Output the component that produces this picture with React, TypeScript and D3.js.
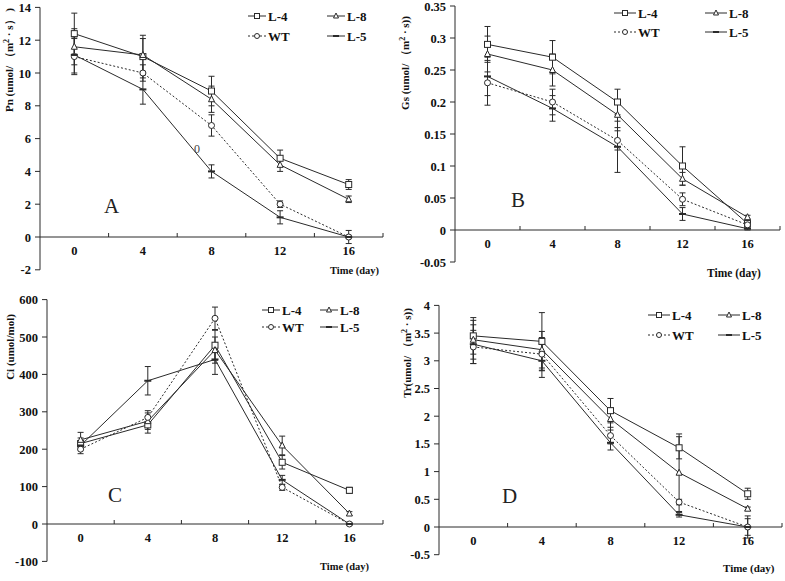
import React from "react";
import * as d3 from "d3";

const days = [0, 4, 8, 12, 16];
const seriesNames = ["L-4", "L-8", "WT", "L-5"];

// Panel A: Pn
const pnL4 = [12.4, 11.0, 8.9, 4.8, 3.2];
const pnL8 = [11.6, 11.1, 8.4, 4.4, 2.3];
const pnWT = [11.0, 10.0, 6.8, 2.0, 0.0];
const pnL5 = [11.1, 9.0, 4.0, 1.2, 0.0];
const pnL4Err = [1.25, 1.3, 0.9, 0.5, 0.3];
const pnL8Err = [1.1, 1.0, 0.8, 0.4, 0.2];
const pnWTErr = [1.1, 0.5, 0.65, 0.2, 0.1];
const pnL5Err = [1.1, 0.9, 0.4, 0.4, 0.4];
const pnTicks = [-2, 0, 2, 4, 6, 8, 10, 12, 14];

// Panel B: Gs
const gsL4 = [0.29, 0.27, 0.2, 0.1, 0.01];
const gsL8 = [0.275, 0.25, 0.18, 0.08, 0.02];
const gsWT = [0.23, 0.2, 0.14, 0.048, 0.008];
const gsL5 = [0.24, 0.19, 0.13, 0.025, 0.002];
const gsL4Err = [0.028, 0.026, 0.02, 0.03, 0.005];
const gsL8Err = [0.028, 0.025, 0.02, 0.01, 0.003];
const gsWTErr = [0.035, 0.02, 0.015, 0.01, 0.003];
const gsL5Err = [0.03, 0.02, 0.04, 0.01, 0.002];
const gsTicks = [-0.05, 0, 0.05, 0.1, 0.15, 0.2, 0.25, 0.3, 0.35];

// Panel C: Ci
const ciL4 = [215, 265, 478, 165, 90];
const ciL8 = [225, 275, 465, 210, 28];
const ciWT = [200, 285, 550, 98, 0];
const ciL5 = [210, 383, 440, 118, 0];
const ciL4Err = [15, 22, 40, 18, 8];
const ciL8Err = [20, 22, 35, 25, 5];
const ciWTErr = [12, 18, 30, 8, 3];
const ciL5Err = [12, 38, 40, 12, 3];
const ciTicks = [-100, 0, 100, 200, 300, 400, 500, 600];

// Panel D: Tr
const trL4 = [3.45, 3.35, 2.1, 1.43, 0.6];
const trL8 = [3.38, 3.2, 1.95, 0.98, 0.33];
const trWT = [3.25, 3.12, 1.65, 0.45, 0.0];
const trL5 = [3.3, 3.0, 1.52, 0.22, 0.0];
const trL4Err = [0.33, 0.52, 0.22, 0.2, 0.1];
const trL8Err = [0.35, 0.33, 0.2, 0.7, 0.03];
const trWTErr = [0.3, 0.3, 0.15, 0.05, 0.2];
const trL5Err = [0.35, 0.3, 0.13, 0.04, 0.15];
const trTicks = [-0.5, 0, 0.5, 1, 1.5, 2, 2.5, 3, 3.5, 4];

const xLabelTicks = [0, 4, 8, 12, 16];
const xMinorTicks = [2, 6, 10, 14, 18];

const SERIF = "'Times New Roman', 'Liberation Serif', 'DejaVu Serif', serif";
const INK = "#2a2a2a";
const markerTypes = ["square", "triangle", "circle", "dash"];
const dashes = [null, null, "2,2", null];

type PanelCfg = {
  x0: number; x1: number; yTop: number; yBot: number;
  yDomain: [number, number]; yTicks: number[]; fmt: (v: number) => string;
  values: number[][]; errs: number[][];
  letter: string; letterX: number; letterY: number;
  yLabel: React.ReactNode; yLabelX: number; yLabelY: number; yLabelSize: number;
  timeX: number; timeY: number; timeSize: number;
  legX1: number; legX2: number; legY1: number; legY2: number; legLen: number;
  extra?: React.ReactNode;
};

function Marker({ type, x, y, s = 3 }: { type: string; x: number; y: number; s?: number }) {
  if (type === "square")
    return <rect x={x - s} y={y - s} width={2 * s} height={2 * s} fill="white" stroke={INK} strokeWidth={1} />;
  if (type === "triangle")
    return <path d={`M${x},${y - s - 0.5}L${x + s},${y + s - 0.5}L${x - s},${y + s - 0.5}Z`} fill="white" stroke={INK} strokeWidth={1} />;
  if (type === "circle")
    return <circle cx={x} cy={y} r={s} fill="white" stroke={INK} strokeWidth={1} />;
  return <line x1={x - s - 0.5} x2={x + s + 0.5} y1={y} y2={y} stroke={INK} strokeWidth={2} />;
}

function Panel({ c }: { c: PanelCfg }) {
  const xs = d3.scaleLinear().domain([-2, 18]).range([c.x0, c.x1]);
  const ys = d3.scaleLinear().domain(c.yDomain).range([c.yBot, c.yTop]);
  const y0 = ys(0);
  const line = d3.line<number>().x((_, i) => xs(days[i])).y((v) => ys(v));
  const legPos = [
    [c.legX1, c.legY1], [c.legX2, c.legY1], [c.legX1, c.legY2], [c.legX2, c.legY2],
  ];
  return (
    <g>
      <line x1={c.x0} x2={c.x0} y1={ys(c.yDomain[1])} y2={ys(c.yDomain[0])} stroke={INK} strokeWidth={1} />
      {c.yTicks.map((t) => (
        <g key={"yt" + t}>
          <line x1={c.x0 - 5} x2={c.x0} y1={ys(t)} y2={ys(t)} stroke={INK} />
          <text x={c.x0 - 9} y={ys(t) + 4.5} textAnchor="end" fontFamily={SERIF} fontWeight="bold" fontSize={12.5} fill="#111">
            {c.fmt(t)}
          </text>
        </g>
      ))}
      <line x1={c.x0} x2={c.x1} y1={y0} y2={y0} stroke={INK} strokeWidth={1} />
      {xMinorTicks.map((t) => (
        <line key={"xm" + t} x1={xs(t)} x2={xs(t)} y1={y0 - 4} y2={y0} stroke={INK} />
      ))}
      {xLabelTicks.map((t) => (
        <text key={"xl" + t} x={xs(t)} y={y0 + 18} textAnchor="middle" fontFamily={SERIF} fontWeight="bold" fontSize={12.5} fill="#111">
          {t}
        </text>
      ))}
      {c.values.map((vals, si) => (
        <path key={"l" + si} d={line(vals) || ""} fill="none" stroke={INK} strokeWidth={1}
          strokeDasharray={dashes[si] || undefined} />
      ))}
      {c.values.map((vals, si) =>
        vals.map((v, i) => {
          const x = xs(days[i]);
          const e = c.errs[si][i];
          const yt = ys(v + e), yb = ys(v - e);
          return (
            <g key={"e" + si + "-" + i} stroke={INK} strokeWidth={1}>
              <line x1={x} x2={x} y1={yt} y2={yb} />
              <line x1={x - 3} x2={x + 3} y1={yt} y2={yt} />
              <line x1={x - 3} x2={x + 3} y1={yb} y2={yb} />
            </g>
          );
        })
      )}
      {c.values.map((vals, si) =>
        vals.map((v, i) => <Marker key={"m" + si + "-" + i} type={markerTypes[si]} x={xs(days[i])} y={ys(v)} />)
      )}
      {seriesNames.map((n, si) => {
        const [lx, ly] = legPos[si];
        return (
          <g key={"lg" + n}>
            <line x1={lx} x2={lx + c.legLen} y1={ly} y2={ly} stroke={INK} strokeWidth={1}
              strokeDasharray={dashes[si] || undefined} />
            <Marker type={markerTypes[si]} x={lx + c.legLen / 2} y={ly} s={2.5} />
            <text x={lx + c.legLen + 2} y={ly + 4.5} fontFamily={SERIF} fontWeight="bold" fontSize={13} fill="#111">
              {n}
            </text>
          </g>
        );
      })}
      <text x={c.letterX} y={c.letterY} fontFamily={SERIF} fontSize={21} fill="#222">{c.letter}</text>
      <text x={c.timeX} y={c.timeY} fontFamily={SERIF} fontWeight="bold" fontSize={c.timeSize} fill="#111">Time (day)</text>
      <text transform={`translate(${c.yLabelX},${c.yLabelY}) rotate(-90)`} textAnchor="middle"
        fontFamily={SERIF} fontWeight="bold" fontSize={c.yLabelSize} fill="#111">
        {c.yLabel}
      </text>
      {c.extra}
    </g>
  );
}

const sup = (s: string) => <tspan dy={-4} fontSize={8}>{s}</tspan>;
const unsup = (s: string) => <tspan dy={4}>{s}</tspan>;

export default function App() {
  const fmtInt = (v: number) => String(v);
  const panels: PanelCfg[] = [
    {
      x0: 40, x1: 383, yTop: 7.4, yBot: 269.8, yDomain: [-2, 14], yTicks: pnTicks, fmt: fmtInt,
      values: [pnL4, pnL8, pnWT, pnL5], errs: [pnL4Err, pnL8Err, pnWTErr, pnL5Err],
      letter: "A", letterX: 104, letterY: 213,
      yLabel: <>{"Pn (umol/ （m"}{sup("2")}{unsup(" · s） )")}</>, yLabelX: 13, yLabelY: 60, yLabelSize: 11,
      timeX: 330, timeY: 274, timeSize: 10.5,
      legX1: 248, legX2: 327, legY1: 16, legY2: 36, legLen: 18,
      extra: <text x={194} y={153} fontFamily={SERIF} fontSize={12} fill="#444">0</text>,
    },
    {
      x0: 455, x1: 780, yTop: 6, yBot: 262, yDomain: [-0.05, 0.35], yTicks: gsTicks, fmt: (v) => String(+v.toFixed(2)),
      values: [gsL4, gsL8, gsWT, gsL5], errs: [gsL4Err, gsL8Err, gsWTErr, gsL5Err],
      letter: "B", letterX: 511, letterY: 207,
      yLabel: <>{"Gs (umol/ （m"}{sup("2")}{unsup(" · s))")}</>, yLabelX: 409, yLabelY: 63, yLabelSize: 11,
      timeX: 707, timeY: 277, timeSize: 11.5,
      legX1: 614, legX2: 705, legY1: 13, legY2: 32, legLen: 22,
    },
    {
      x0: 47, x1: 383, yTop: 299.6, yBot: 561.4, yDomain: [-100, 600], yTicks: ciTicks, fmt: fmtInt,
      values: [ciL4, ciL8, ciWT, ciL5], errs: [ciL4Err, ciL8Err, ciWTErr, ciL5Err],
      letter: "C", letterX: 108, letterY: 502,
      yLabel: <>{"Ci (umol/mol)"}</>, yLabelX: 14, yLabelY: 347, yLabelSize: 11,
      timeX: 320, timeY: 570, timeSize: 10.5,
      legX1: 262, legX2: 320, legY1: 310, legY2: 327, legLen: 18,
    },
    {
      x0: 439, x1: 782, yTop: 305.4, yBot: 554.7, yDomain: [-0.5, 4], yTicks: trTicks, fmt: (v) => String(v),
      values: [trL4, trL8, trWT, trL5], errs: [trL4Err, trL8Err, trWTErr, trL5Err],
      letter: "D", letterX: 502, letterY: 503,
      yLabel: <>{"Tr(umol/ （m"}{sup("2")}{unsup(" · s))")}</>, yLabelX: 411, yLabelY: 353, yLabelSize: 11,
      timeX: 723, timeY: 572, timeSize: 11,
      legX1: 648, legX2: 718, legY1: 315, legY2: 335, legLen: 22,
    },
  ];
  return (
    <svg width={785} height={581} style={{ position: "absolute", left: 0, top: 0, background: "white" }}>
      <rect width={785} height={581} fill="white" />
      {panels.map((p, i) => <Panel key={i} c={p} />)}
    </svg>
  );
}
